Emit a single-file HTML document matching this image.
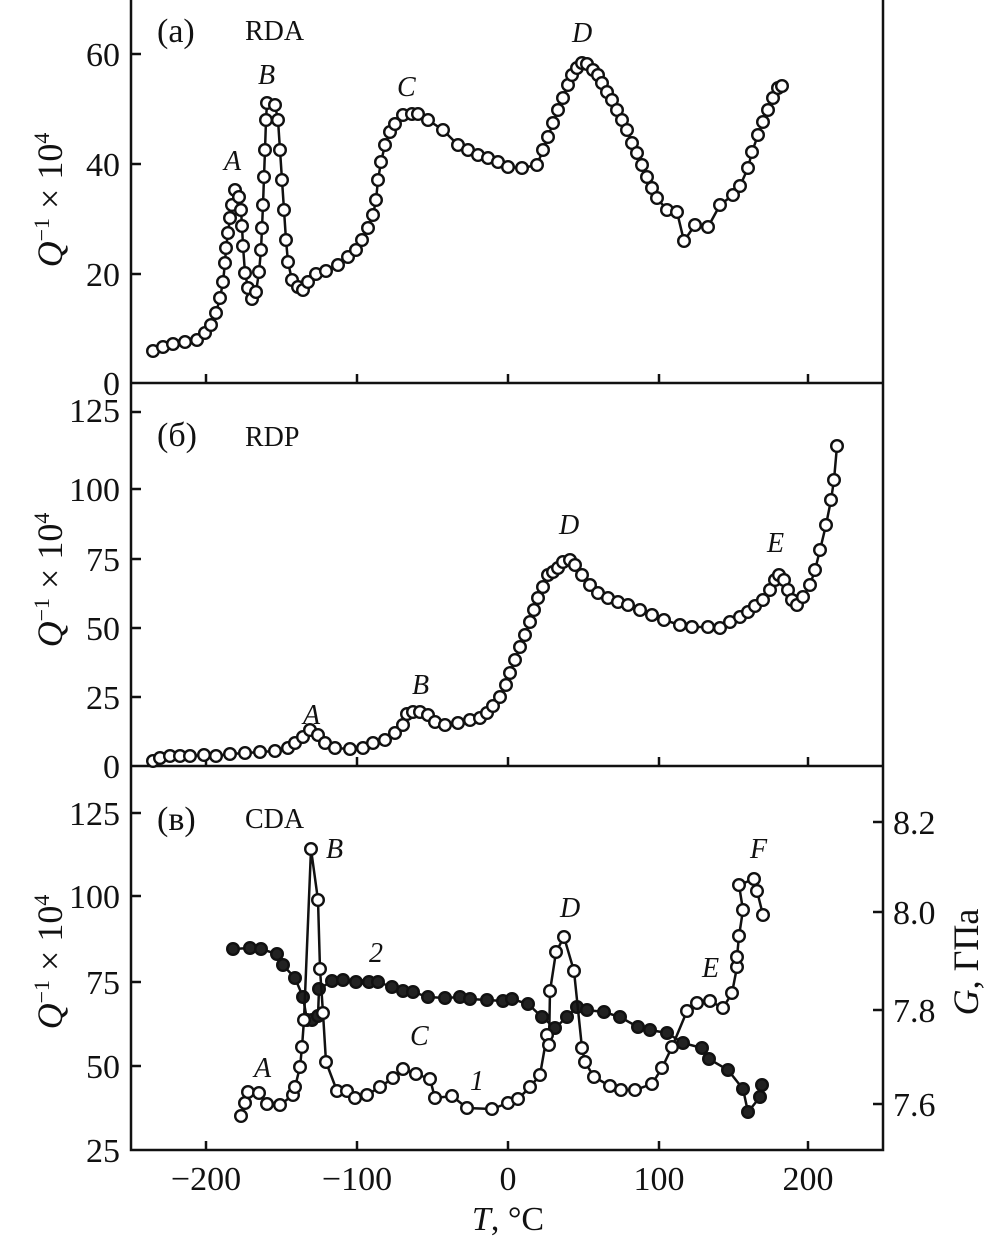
<!DOCTYPE html>
<html><head><meta charset="utf-8"><style>
body{margin:0;background:#fff}
svg{display:block;font-family:"Liberation Serif",serif}
</style></head><body>
<svg id="s" width="998" height="1242" viewBox="0 0 998 1242" xmlns="http://www.w3.org/2000/svg">
<g stroke="#111" stroke-width="2.5" fill="none">
<rect x="131" y="-5" width="752" height="1155"/>
<line x1="131" y1="383" x2="883" y2="383"/>
<line x1="131" y1="766" x2="883" y2="766"/>
</g>
<g stroke="#111" stroke-width="2.5" id="ticks"></g>
<g font-size="34" fill="#111" text-anchor="end">
<text x="120" y="66">60</text><text x="120" y="176">40</text><text x="120" y="286">20</text><text x="120" y="395">0</text>
<text x="120" y="422">125</text><text x="120" y="501">100</text><text x="120" y="571">75</text><text x="120" y="640">50</text><text x="120" y="709">25</text><text x="120" y="778">0</text>
<text x="120" y="825">125</text><text x="120" y="908">100</text><text x="120" y="994">75</text><text x="120" y="1078">50</text><text x="120" y="1162">25</text>
</g>
<g font-size="34" fill="#111" text-anchor="start">
<text x="893" y="834">8.2</text><text x="893" y="924">8.0</text><text x="893" y="1022">7.8</text><text x="893" y="1116">7.6</text>
</g>
<g font-size="34" fill="#111" text-anchor="middle">
<text x="206" y="1190">−200</text><text x="357" y="1190">−100</text><text x="508" y="1190">0</text><text x="659" y="1190">100</text><text x="808" y="1190">200</text>
<text x="508" y="1230"><tspan font-style="italic">T</tspan>, °C</text>
</g>
<g font-size="36" fill="#111">
<text transform="translate(62,200) rotate(-90)" text-anchor="middle"><tspan font-style="italic">Q</tspan><tspan dy="-13" font-size="22">−1</tspan><tspan dy="13"> × 10</tspan><tspan dy="-13" font-size="22">4</tspan></text>
<text transform="translate(62,580) rotate(-90)" text-anchor="middle"><tspan font-style="italic">Q</tspan><tspan dy="-13" font-size="22">−1</tspan><tspan dy="13"> × 10</tspan><tspan dy="-13" font-size="22">4</tspan></text>
<text transform="translate(62,962) rotate(-90)" text-anchor="middle"><tspan font-style="italic">Q</tspan><tspan dy="-13" font-size="22">−1</tspan><tspan dy="13"> × 10</tspan><tspan dy="-13" font-size="22">4</tspan></text>
<text transform="translate(978,962) rotate(-90)" text-anchor="middle"><tspan font-style="italic">G</tspan>, ГПа</text>
</g>
<g font-size="34" fill="#111">
<text x="157" y="42">(a)</text><text x="245" y="40" font-size="28">RDA</text>
<text x="157" y="446">(б)</text><text x="245" y="446" font-size="28">RDP</text>
<text x="157" y="830">(в)</text><text x="245" y="828" font-size="28">CDA</text>
</g>
<g font-size="28" fill="#111" font-style="italic">
<text x="224" y="170">A</text><text x="258" y="84">B</text><text x="397" y="96">C</text><text x="572" y="42">D</text>
<text x="303" y="724">A</text><text x="412" y="694">B</text><text x="559" y="534">D</text><text x="767" y="552">E</text>
<text x="254" y="1077">A</text><text x="326" y="858">B</text><text x="410" y="1045">C</text><text x="560" y="917">D</text><text x="702" y="977">E</text><text x="750" y="858">F</text>
<text x="369" y="962">2</text><text x="470" y="1090">1</text>
</g>
<g id="data"></g>
</svg>
<script>
const NS="http://www.w3.org/2000/svg";
const d=document.getElementById('data'),tk=document.getElementById('ticks');
function el(n,a,p){const e=document.createElementNS(NS,n);for(const k in a)e.setAttribute(k,a[k]);(p||d).appendChild(e);return e;}
function series(s,filled){
 const pts=s.trim().split(/\s+/).map(p=>p.split(',').map(Number));
 el('polyline',{points:pts.map(p=>p.join(',')).join(' '),fill:'none',stroke:'#111','stroke-width':2.5});
 pts.forEach(p=>el('circle',{cx:p[0],cy:p[1],r:5.8,fill:filled?'#222':'#fff',stroke:'#111','stroke-width':2.4}));
}
[206,357,508,659,808].forEach(x=>{[383,766,1150].forEach(y=>el('line',{x1:x,y1:y,x2:x,y2:y-9},tk));});
[54,164,274,412,489,559,628,697,813,896,982,1066].forEach(y=>el('line',{x1:131,y1:y,x2:141,y2:y},tk));
[822,912,1010,1104].forEach(y=>el('line',{x1:883,y1:y,x2:873,y2:y},tk));
series(`153,351 163,347 173,344 185,342 197,340 205,333 211,325 216,313 220,298 223,282 225,263 226,248 228,233 230,218 232,205 235,190 239,197 241,210 242,226 243,246 245,273 248,288 252,299 256,292 259,272 261,250 262,228 263,205 264,177 265,150 266,120 267,103 275,105 278,120 280,150 282,180 284,210 286,240 288,262 292,280 298,287 303,290 308,282 316,274 326,271 338,265 348,257 356,250 362,240 368,228 373,215 376,200 378,180 381,162 385,145 390,132 395,124 403,115 412,114 418,114 428,120 443,130 458,145 468,150 478,155 488,158 498,162 508,167 522,168 537,165 543,150 548,137 553,123 558,110 563,98 568,85 572,75 577,68 582,63 587,64 593,70 598,75 602,83 607,92 612,100 617,110 622,120 627,130 632,143 637,153 642,165 647,177 652,188 657,198 667,210 677,212 684,241 695,225 708,227 720,205 733,195 740,186 748,168 752,152 758,135 763,122 768,110 773,98 778,88 782,86`);
series(`153,761 160,758 170,756 180,756 190,756 204,755 216,756 230,754 245,753 260,752 275,751 288,748 295,743 303,737 310,730 318,735 325,743 335,748 350,749 363,748 373,743 385,740 395,733 403,725 407,714 413,712 420,712 428,715 435,722 445,725 458,723 470,720 480,718 487,713 493,706 500,697 506,685 510,673 515,660 520,647 525,635 530,622 534,610 538,598 543,587 548,575 553,572 558,568 563,562 570,560 575,565 582,575 590,585 598,593 608,598 618,602 628,605 640,610 652,615 664,620 680,625 692,627 708,627 720,628 730,622 740,617 748,612 755,606 763,600 770,590 775,580 779,575 784,580 788,590 792,600 797,605 803,597 810,585 815,570 820,550 826,525 831,500 834,480 837,446`);
series(`233,949 250,948 261,949 277,954 283,965 295,978 303,997 307,1020 312,1020 318,1016 319,989 332,981 343,980 356,982 369,982 378,982 392,987 403,991 413,992 428,997 445,998 460,997 470,999 487,1000 503,1001 512,999 528,1004 542,1017 555,1028 567,1017 577,1007 587,1010 604,1012 620,1017 638,1027 650,1030 667,1033 683,1043 702,1048 709,1059 728,1070 743,1089 748,1112 760,1097 762,1085`,true);
series(`241,1116 245,1103 248,1092 259,1093 267,1104 280,1105 293,1095 295,1087 300,1067 302,1047 304,1020 311,849 318,900 320,969 323,1013 326,1062 337,1091 347,1091 355,1098 367,1095 380,1087 393,1078 403,1069 416,1074 430,1079 435,1098 452,1096 467,1108 492,1109 508,1103 518,1099 530,1087 540,1075 547,1035 549,1045 550,991 556,952 564,937 574,971 582,1048 585,1062 594,1077 610,1086 621,1090 635,1090 652,1084 662,1068 672,1047 687,1011 697,1003 710,1001 723,1008 732,993 737,967 737,957 739,936 743,910 739,885 754,879 757,891 763,915`);
</script>
</body></html>
